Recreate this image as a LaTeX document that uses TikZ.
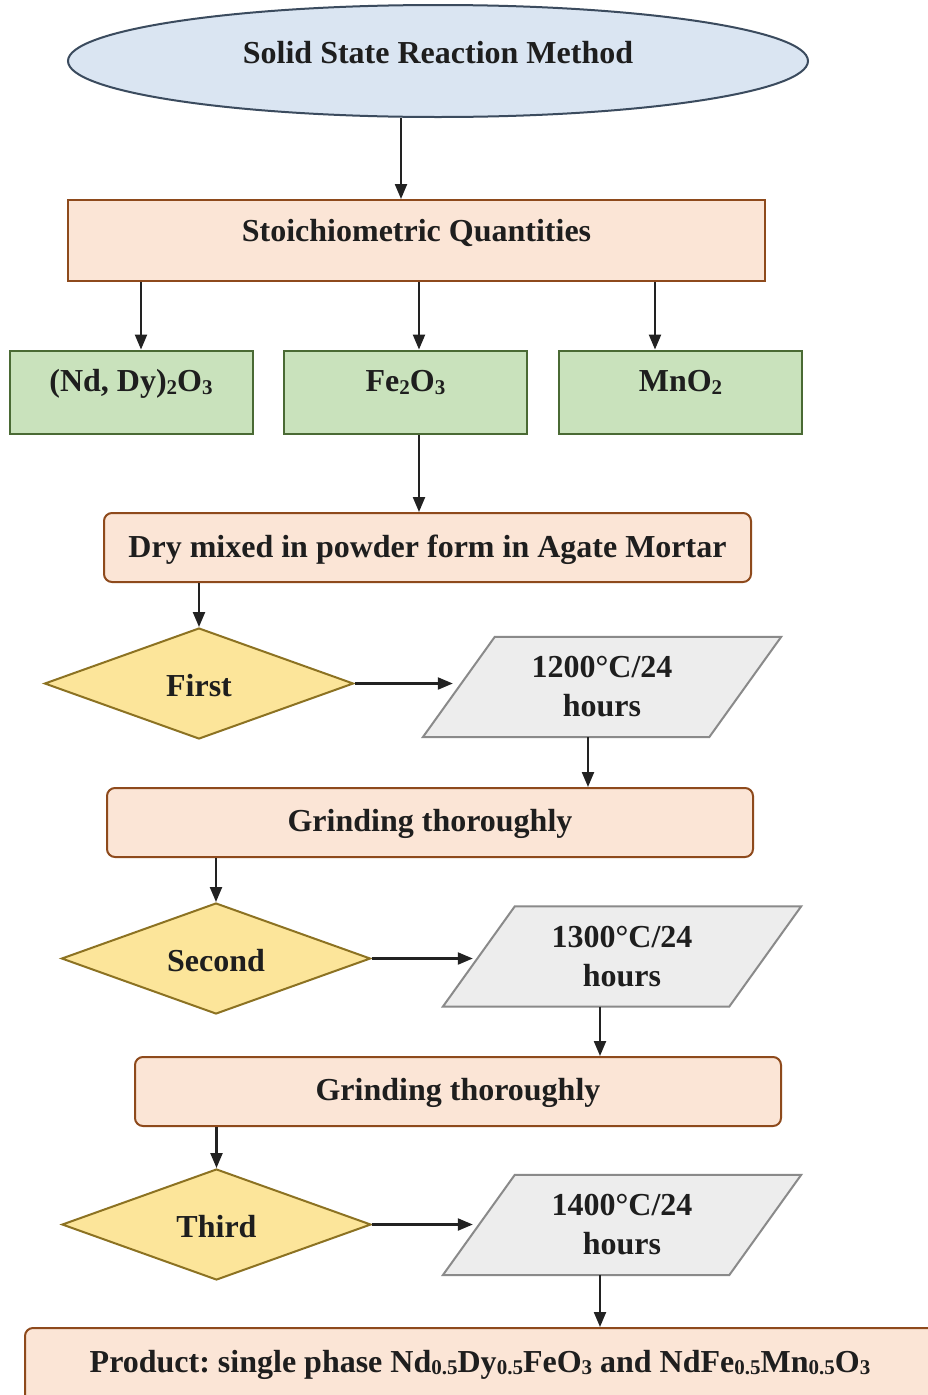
\documentclass[tikz,border=0pt]{standalone}
\usepackage{fontspec}
\setmainfont{Liberation Serif}
\usetikzlibrary{shapes.geometric,arrows.meta,calc}
\pgfdeclarelayer{bg}
\pgfsetlayers{bg,main}
\definecolor{ellF}{HTML}{DAE5F2}
\definecolor{ellD}{HTML}{3B4B5E}
\definecolor{orF}{HTML}{FBE5D6}
\definecolor{orD}{HTML}{8E4A1C}
\definecolor{grF}{HTML}{C9E2BC}
\definecolor{grD}{HTML}{4A6A34}
\definecolor{dmF}{HTML}{FCE59A}
\definecolor{dmD}{HTML}{8C7222}
\definecolor{paF}{HTML}{EDEDED}
\definecolor{paD}{HTML}{8A8A8A}
\definecolor{txt}{HTML}{1E1E1E}
\definecolor{arrc}{HTML}{222222}
\newcommand{\chemsub}[1]{\raisebox{-2.5pt}{\fontsize{21}{21}\selectfont #1}}
\frenchspacing
\begin{document}
\begin{tikzpicture}[x=1pt,y=-1pt,
  every node/.style={font=\bfseries\fontsize{32}{39}\selectfont, text=txt, inner sep=0pt},
  arr/.style={draw=arrc, line width=2.2pt, -{Triangle[length=15pt,width=12pt]}},
  sqbox/.style={draw=orD, fill=orF, line width=2pt, text depth=6pt},
  rdbox/.style={draw=orD, fill=orF, line width=2pt, rounded corners=8pt, text depth=6pt},
  grbox/.style={draw=grD, fill=grF, line width=2pt, minimum width=243pt, minimum height=83.5pt, text height=4.8pt, text depth=6pt},
  dmbox/.style={diamond, draw=dmD, fill=dmF, line width=2pt, aspect=2.8, minimum width=309pt, minimum height=111pt, text depth=6pt},
  parabox/.style={minimum width=286pt, minimum height=100pt, align=center},
  pshape/.style={draw=paD, fill=paF, line width=2pt, line join=miter}
]
\useasboundingbox (0,0) rectangle (927,1395);
\begin{pgfonlayer}{bg}
\fill[white] (0,0) rectangle (927,1395);
\end{pgfonlayer}

% nodes
\node[ellipse, draw=ellD, fill=ellF, line width=2pt, minimum width=740pt, minimum height=112pt, text height=10pt, text depth=6pt] (title) at (438,61) {Solid State Reaction Method};
\node[sqbox, minimum width=697pt, minimum height=81pt, text height=8.4pt] (stoich) at (416.5,240.5) {Stoichiometric Quantities};
\node[grbox] (g1) at (131,392.3) {(Nd, Dy)\chemsub{2}O\chemsub{3}};
\node[grbox] (g2) at (405.5,392.3) {Fe\chemsub{2}O\chemsub{3}};
\node[grbox] (g3) at (680.5,392.3) {MnO\chemsub{2}};
\node[rdbox, minimum width=647pt, minimum height=69pt, text height=26.4pt] (dry) at (427.5,547.5) {Dry mixed in powder form in Agate Mortar};
\node[dmbox, text height=32.4pt] (first) at (199,683.5) {First};
\node[parabox] (p1) at (602,687) {1200°C/24\\hours};
\node[rdbox, minimum width=646pt, minimum height=69pt, text height=24.4pt] (grind1) at (430,822.5) {Grinding thoroughly};
\node[dmbox, text height=32.4pt] (second) at (216,958.5) {Second};
\node[parabox] (p2) at (622,956.5) {1300°C/24\\hours};
\node[rdbox, minimum width=646pt, minimum height=69pt, text height=24.4pt] (grind2) at (458,1091.5) {Grinding thoroughly};
\node[dmbox, text height=31pt] (third) at (216.5,1224.5) {Third};
\node[parabox] (p3) at (622,1225) {1400°C/24\\hours};
\node[rdbox, minimum width=910pt, minimum height=74pt, text height=20pt] (product) at (480,1365) {Product: single phase Nd\chemsub{0.5}Dy\chemsub{0.5}FeO\chemsub{3} and NdFe\chemsub{0.5}Mn\chemsub{0.5}O\chemsub{3}};

% parallelogram outlines behind their texts
\begin{pgfonlayer}{bg}
\foreach \p in {p1,p2,p3}{
  \path[pshape] ([xshift=36pt]\p.north west) -- ([xshift=36pt]\p.north east) -- ([xshift=-36pt]\p.south east) -- ([xshift=-36pt]\p.south west) -- cycle;
}
\end{pgfonlayer}

% connectors
\draw[arr] (title.south -| 401,0) -- (stoich.north -| 401,0);
\draw[arr] (stoich.south -| 141,0) -- (g1.north -| 141,0);
\draw[arr] (stoich.south -| 419,0) -- (g2.north -| 419,0);
\draw[arr] (stoich.south -| 655,0) -- (g3.north -| 655,0);
\draw[arr] (g2.south -| 419,0) -- (dry.north -| 419,0);
\draw[arr] (dry.south -| first.north) -- (first.north);
\draw[arr] (first.east) -- ($(first.east -| p1.west)+(-6,0)$);
\draw[arr] (p1.south -| 588,0) -- (grind1.north -| 588,0);
\draw[arr] (grind1.south -| second.north) -- (second.north);
\draw[arr] (second.east) -- ($(second.east -| p2.west)+(-6,0)$);
\draw[arr] (p2.south -| 600,0) -- (grind2.north -| 600,0);
\draw[arr] (grind2.south -| third.north) -- (third.north);
\draw[arr] (third.east) -- ($(third.east -| p3.west)+(-6,0)$);
\draw[arr] (p3.south -| 600,0) -- (product.north -| 600,0);
\end{tikzpicture}
\end{document}
